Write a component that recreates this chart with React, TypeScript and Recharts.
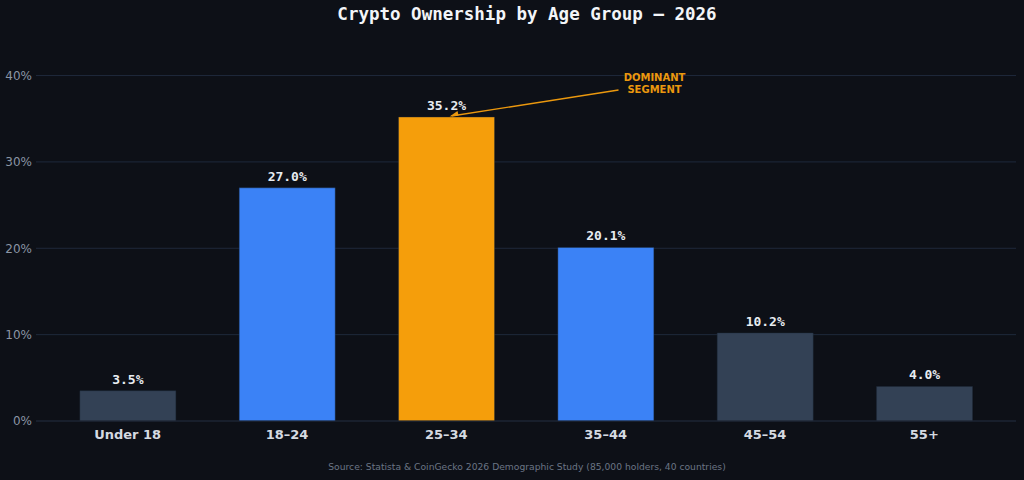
import { BarChart, Bar, XAxis, YAxis, CartesianGrid, Cell, LabelList } from "recharts";

const AGE_GROUPS = ["Under 18", "18–24", "25–34", "35–44", "45–54", "55+"];
const OWNERSHIP = [3.5, 27.0, 35.2, 20.1, 10.2, 4.0];
const BAR_COLORS = ["#334155", "#3b82f6", "#f59e0b", "#3b82f6", "#334155", "#334155"];
const Y_TICKS = [0, 10, 20, 30, 40];
const Y_MAX = 44;
const HIGHLIGHT = "25–34";

const BG = "#0d1017";
const MONO = "'DejaVu Sans Mono', monospace";
const SANS = "'DejaVu Sans', sans-serif";

const data = AGE_GROUPS.map((g, i) => ({ group: g, value: OWNERSHIP[i] }));

function ValueLabel(props: any) {
  const { x, y, width, value, index } = props;
  const cx = x + width / 2;
  const isTop = AGE_GROUPS[index] === HIGHLIGHT;
  return (
    <g>
      <text
        x={cx}
        y={y - 7}
        textAnchor="middle"
        fill="#e8ecf1"
        fontFamily={MONO}
        fontWeight="bold"
        fontSize={13}
      >
        {value.toFixed(1)}%
      </text>
      {isTop && (
        <g>
          <line x1={cx + 172} y1={y - 27} x2={cx + 5} y2={y - 1} stroke="#eb980e" strokeWidth={1.4} />
          <path d={`M ${cx + 3} ${y - 0.5} l 8 -5.5 l 1 4.5 z`} fill="#eb980e" />
          <text x={cx + 208} y={y - 36} textAnchor="middle" fill="#eb980e" fontFamily={SANS} fontWeight="bold" fontSize={10}>
            DOMINANT
          </text>
          <text x={cx + 208} y={y - 24} textAnchor="middle" fill="#eb980e" fontFamily={SANS} fontWeight="bold" fontSize={10}>
            SEGMENT
          </text>
        </g>
      )}
    </g>
  );
}

// grid only at the labelled ticks (no line at the top of the domain)
const gridRows = (props: any) => {
  const o = props.offset;
  return Y_TICKS.map((t) => o.top + o.height * (1 - t / Y_MAX));
};

export default function App() {
  return (
    <div style={{ position: "fixed", left: 0, top: 0, width: 1024, height: 480, background: BG }}>
      <div
        style={{
          position: "absolute",
          top: 4,
          left: 30,
          width: 994,
          textAlign: "center",
          color: "#f3f5f8",
          fontFamily: MONO,
          fontWeight: "bold",
          fontSize: 17.5,
        }}
      >
        Crypto Ownership by Age Group — 2026
      </div>
      <BarChart
        width={1024}
        height={480}
        data={data}
        margin={{ top: 41, right: 8, bottom: 29, left: 0 }}
        barCategoryGap="20%"
      >
        <CartesianGrid
          vertical={false}
          stroke="#1e293b"
          strokeWidth={1}
          horizontalCoordinatesGenerator={gridRows}
        />
        <XAxis
          dataKey="group"
          height={30}
          padding={{ left: 12, right: 12 }}
          axisLine={{ stroke: "#1c2230" }}
          tickLine={false}
          tick={{ fill: "#d5dae1", fontFamily: SANS, fontWeight: "bold", fontSize: 13 }}
          tickMargin={3}
        />
        <YAxis
          width={36}
          domain={[0, Y_MAX]}
          ticks={Y_TICKS}
          axisLine={false}
          tickLine={false}
          tickFormatter={(v) => `${v}%`}
          tick={{ fill: "#8b95a5", fontFamily: SANS, fontSize: 12 }}
          tickMargin={-2}
        />
        <Bar dataKey="value" isAnimationActive={false}>
          {data.map((d, i) => (
            <Cell key={d.group} fill={BAR_COLORS[i]} stroke="#1f2a3a" strokeOpacity={0.4} />
          ))}
          <LabelList dataKey="value" content={ValueLabel} />
        </Bar>
      </BarChart>
      <div
        style={{
          position: "absolute",
          top: 461,
          left: 30,
          width: 994,
          textAlign: "center",
          color: "#6b7585",
          fontFamily: SANS,
          fontSize: 9.2,
        }}
      >
        Source: Statista &amp; CoinGecko 2026 Demographic Study (85,000 holders, 40 countries)
      </div>
    </div>
  );
}
